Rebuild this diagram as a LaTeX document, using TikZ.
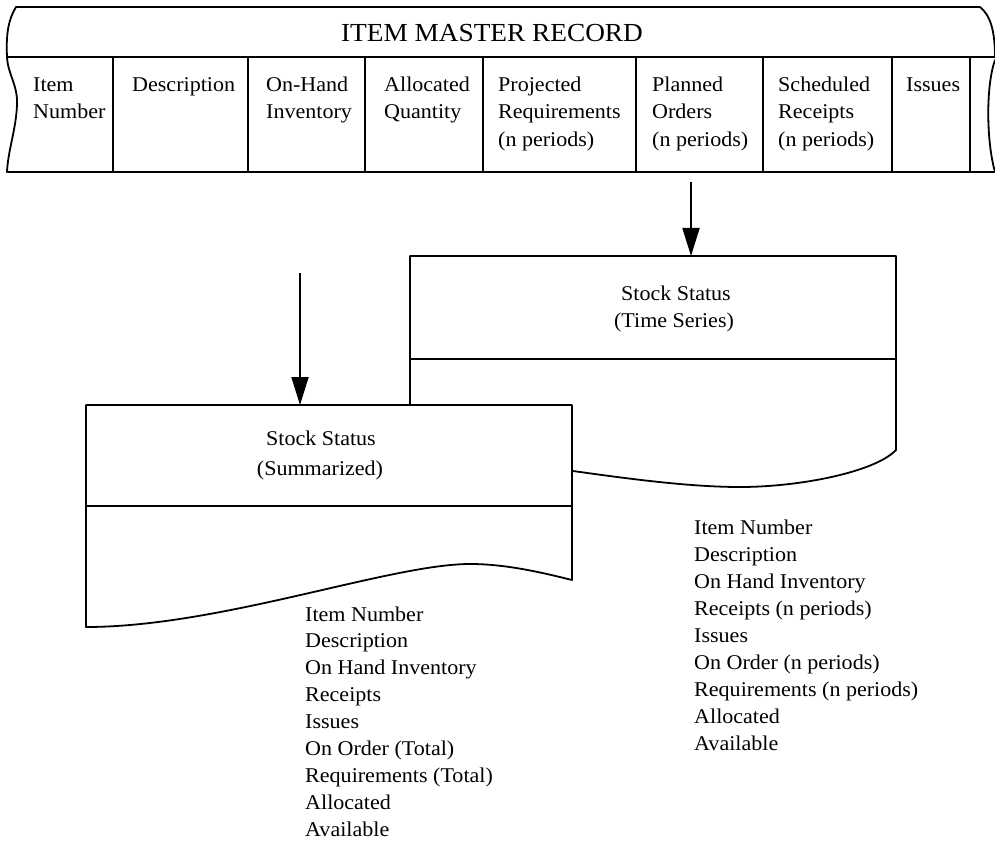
\documentclass[tikz,border=0pt]{standalone}
\usepackage{fontspec}
\setmainfont{Liberation Serif}[FakeStretch=1.05]
\usetikzlibrary{arrows.meta}
\begin{document}
\begin{tikzpicture}[x=1pt,y=-1pt,
  rule/.style={line width=1.8pt, line cap=round, line join=round},
  sheet/.style={rule, fill=white},
  flow/.style={line width=1.8pt, -{Triangle[length=28pt,width=17pt]}},
  txt/.style={font=\fontsize{21}{26}\selectfont, inner sep=0pt, anchor=base west},
  ctxt/.style={txt, anchor=base},
  title/.style={font=\fontsize{26}{30}\selectfont, inner sep=0pt, anchor=base}]
\useasboundingbox (0,0) rectangle (995,842);

% ---------- item master record (punched-tape banner) ----------
\draw[rule] (16,7) -- (980,7);
\draw[rule] (7,57) -- (995,57);
\draw[rule] (7,172) -- (995,172);
% wavy left edge
\draw[rule] (16,7) .. controls (8,20) and (6,35) .. (7,57)
  .. controls (8,75) and (18,85) .. (17,105)
  .. controls (16,130) and (8,150) .. (7,172);
% wavy right edge
\draw[rule] (980,7) .. controls (990,15) and (995,30) .. (995,57);
\draw[rule] (995,60) .. controls (986,85) and (986,140) .. (995,172);
% field dividers
\foreach \x in {113,248,365,483,636,763,892,970}
  \draw[rule] (\x,57) -- (\x,172);

\node[title] (imr) at (492,42) {ITEM MASTER RECORD};

% field headings, one line per node
\foreach \x/\lines [count=\c] in {
    33/{Item,Number},
    132/{Description},
    266/{On-Hand,Inventory},
    384/{Allocated,Quantity},
    498/{Projected,Requirements,(n periods)},
    652/{Planned,Orders,(n periods)},
    778/{Scheduled,Receipts,(n periods)},
    906/{Issues}}
  \foreach \l [count=\r] in \lines
    \node[txt] (fld\c-\r) at (\x,{91.5+27.3*(\r-1)}) {\l};

% ---------- stock status, time series (behind) ----------
\draw[sheet] (410,471) -- (410,256) -- (896,256) -- (896,450)
  .. controls (875,472) and (800,487) .. (740,487)
  .. controls (690,487) and (630,479) .. (573,471) -- cycle;
\draw[rule] (410,359) -- (896,359);
\node[ctxt] (ts1) at (676,300) {Stock Status};
\node[ctxt] (ts2) at (674,327) {(Time Series)};

% ---------- stock status, summarized (front) ----------
\draw[sheet] (86,627) -- (86,405) -- (572,405) -- (572,580)
  .. controls (540,572) and (505,564) .. (470,564)
  .. controls (390,564) and (220,627) .. (86,627) -- cycle;
\draw[rule] (86,506) -- (572,506);
\node[ctxt] (sm1) at (321,445) {Stock Status};
\node[ctxt] (sm2) at (320,475) {(Summarized)};

% ---------- flows ----------
\coordinate (planfoot) at (691,182);
\coordinate (tstop) at (691,256);
\coordinate (feed) at (300,273);
\coordinate (smtop) at (300,405);
\draw[flow] (planfoot) -- (tstop);
\draw[flow] (feed) -- (smtop);

% ---------- report contents ----------
\foreach \t [count=\i] in {Item Number, Description, On Hand Inventory,
    Receipts (n periods), Issues, On Order (n periods),
    Requirements (n periods), Allocated, Available}
  \node[txt] (tsl\i) at (694,{534+27*(\i-1)}) {\t};

\foreach \t [count=\i] in {Item Number, Description, On Hand Inventory,
    Receipts, Issues, On Order (Total), Requirements (Total),
    Allocated, Available}
  \node[txt] (sml\i) at (305,{621+26.9*(\i-1)}) {\t};
\end{tikzpicture}
\end{document}
